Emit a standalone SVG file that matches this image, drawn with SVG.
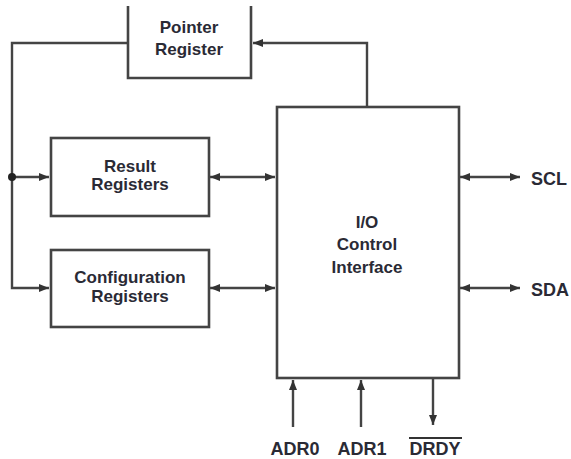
<svg xmlns="http://www.w3.org/2000/svg" width="571" height="459" viewBox="0 0 571 459">
<style>
.box{fill:#fff;stroke:#444;stroke-width:2.6}
.ln{fill:none;stroke:#444;stroke-width:2.4}
.t{font-family:"Liberation Sans",Arial,sans-serif;font-size:17px;font-weight:bold;fill:#2a2a35;text-anchor:middle}
.pin{font-family:"Liberation Sans",Arial,sans-serif;font-size:18px;font-weight:bold;fill:#2a2a35;text-anchor:middle}
</style>
<defs>
<marker id="ah" viewBox="0 0 10 8" refX="10" refY="4" markerWidth="12" markerHeight="8" markerUnits="userSpaceOnUse" orient="auto-start-reverse">
<path d="M0,0 L10,4 L0,8 Z" fill="#333"/>
</marker>
</defs>
<rect width="571" height="459" fill="#fff"/>
<g id="connectors">
<path class="ln" d="M128,43 H12 V288 H49" marker-end="url(#ah)"/>
<path class="ln" d="M12,177 H49" marker-end="url(#ah)"/>
<circle cx="12" cy="177" r="4" fill="#222"/>
<path class="ln" d="M367,106 V43 H253" marker-end="url(#ah)"/>
<path class="ln" d="M210,177 H275" marker-start="url(#ah)" marker-end="url(#ah)"/>
<path class="ln" d="M210,288 H275" marker-start="url(#ah)" marker-end="url(#ah)"/>
<path class="ln" d="M460,177 H520" marker-start="url(#ah)" marker-end="url(#ah)"/>
<path class="ln" d="M460,288 H520" marker-start="url(#ah)" marker-end="url(#ah)"/>
<path class="ln" d="M293,427 V380" marker-end="url(#ah)"/>
<path class="ln" d="M361,427 V380" marker-end="url(#ah)"/>
<path class="ln" d="M433,379 V425" marker-end="url(#ah)"/>
</g>
<g id="pointer-register">
<path class="box" d="M128,6 V78 H251 V6"/>
<text class="t" x="189" y="33">Pointer</text>
<text class="t" x="189" y="55">Register</text>
</g>
<g id="result-registers">
<rect class="box" x="51" y="138" width="158" height="78"/>
<text class="t" x="130" y="172">Result</text>
<text class="t" x="130" y="190">Registers</text>
</g>
<g id="configuration-registers">
<rect class="box" x="51" y="250" width="158" height="77"/>
<text class="t" x="130" y="283">Configuration</text>
<text class="t" x="130" y="302">Registers</text>
</g>
<g id="io-control">
<rect class="box" x="277" y="107" width="182" height="271"/>
<text class="t" x="367" y="228">I/O</text>
<text class="t" x="367" y="250">Control</text>
<text class="t" x="367" y="273">Interface</text>
</g>
<g id="pins">
<text class="pin" x="549" y="185">SCL</text>
<text class="pin" x="550" y="296">SDA</text>
<text class="pin" x="295" y="455">ADR0</text>
<text class="pin" x="362" y="455">ADR1</text>
<text class="pin" x="435" y="455">DRDY</text>
<line x1="409" y1="438" x2="462" y2="438" stroke="#333" stroke-width="1.8"/>
</g>
</svg>
